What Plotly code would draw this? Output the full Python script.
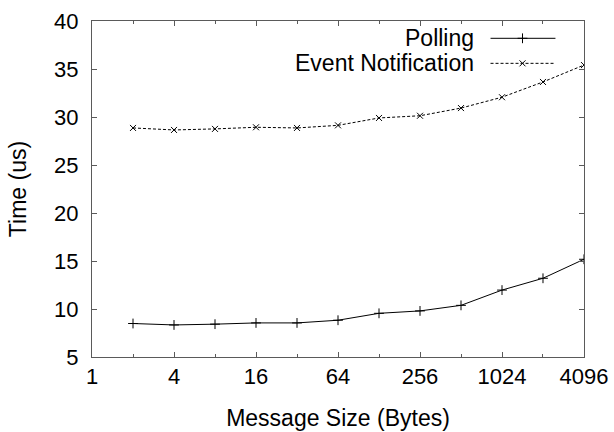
import plotly.graph_objects as go

sizes = [2, 4, 8, 16, 32, 64, 128, 256, 512, 1024, 2048, 4096]
polling = [8.49, 8.34, 8.42, 8.55, 8.55, 8.83, 9.55, 9.8, 10.38, 11.97, 13.2, 15.18]
event = [28.86, 28.65, 28.76, 28.93, 28.86, 29.13, 29.9, 30.13, 30.93, 32.06, 33.65, 35.41]
x_ticks = [1, 4, 16, 64, 256, 1024, 4096]
x_minor = [2, 8, 32, 128, 512, 2048]
y_ticks = [5, 10, 15, 20, 25, 30, 35, 40]

FONT = "Liberation Sans, Arial, sans-serif"
FS = 22
FT = 23
AX = "#5a5a5a"

fig = go.Figure()
fig.add_trace(go.Scatter(x=sizes, y=polling, mode="lines+markers", name="Polling",
                         line=dict(color="black", width=1),
                         marker=dict(symbol="cross-thin", size=7, line=dict(color="black", width=1)),
                         showlegend=False))
fig.add_trace(go.Scatter(x=sizes, y=event, mode="lines+markers", name="Event Notification",
                         line=dict(color="black", width=1, dash="3px,2px"),
                         marker=dict(symbol="x-thin", size=6, line=dict(color="black", width=1)),
                         showlegend=False))

# legend (gnuplot style: text left, sample right) on an overlay axis
legend_rows = [("Polling", "solid", "cross-thin", 7, 0.9485), ("Event Notification", "3px,2px", "x-thin", 6, 0.874)]
for name, dash, sym, ms, yy in legend_rows:
    fig.add_trace(go.Scatter(x=[0.81, 0.942], y=[yy, yy], mode="lines", xaxis="x2", yaxis="y2",
                             line=dict(color="black", width=1, dash=dash), showlegend=False, hoverinfo="skip"))
    fig.add_trace(go.Scatter(x=[0.875], y=[yy], mode="markers", xaxis="x2", yaxis="y2",
                             marker=dict(symbol=sym, size=ms, line=dict(color="black", width=1)),
                             showlegend=False, hoverinfo="skip"))
    fig.add_annotation(x=0.778, y=yy, xref="x2", yref="y2", text=name, showarrow=False,
                       xanchor="right", yanchor="middle", borderpad=0,
                       font=dict(family=FONT, size=FT, color="black"))

fig.update_layout(
    width=614, height=432,
    margin=dict(l=92, r=29.5, t=21, b=74.5),
    paper_bgcolor="white", plot_bgcolor="white",
    font=dict(family=FONT, size=FS, color="black"),
    xaxis=dict(type="log", range=[0, 3.6124], tickvals=x_ticks, ticktext=[str(v) for v in x_ticks],
               ticks="inside", ticklen=5, tickcolor=AX, showline=True, linecolor=AX, linewidth=1,
               mirror="ticks", showgrid=False, zeroline=False, automargin=False,
               tickfont=dict(size=FS),
               minor=dict(tickvals=x_minor, ticks="inside", ticklen=3, tickcolor=AX, showgrid=False),
               title=dict(text="Message Size (Bytes)", standoff=21, font=dict(size=FT))),
    yaxis=dict(range=[5, 40], tickvals=y_ticks, ticks="inside", ticklen=5, tickcolor=AX,
               showline=True, linecolor=AX, linewidth=1, mirror="ticks", showgrid=False, zeroline=False,
               automargin=False, tickfont=dict(size=FS),
               ticklabelstandoff=8, title=dict(text="Time (us)", standoff=21, font=dict(size=FT))),
    xaxis2=dict(range=[0, 1], overlaying="x", visible=False, fixedrange=True),
    yaxis2=dict(range=[0, 1], overlaying="y", visible=False, fixedrange=True),
)
fig.write_html("out.html")
